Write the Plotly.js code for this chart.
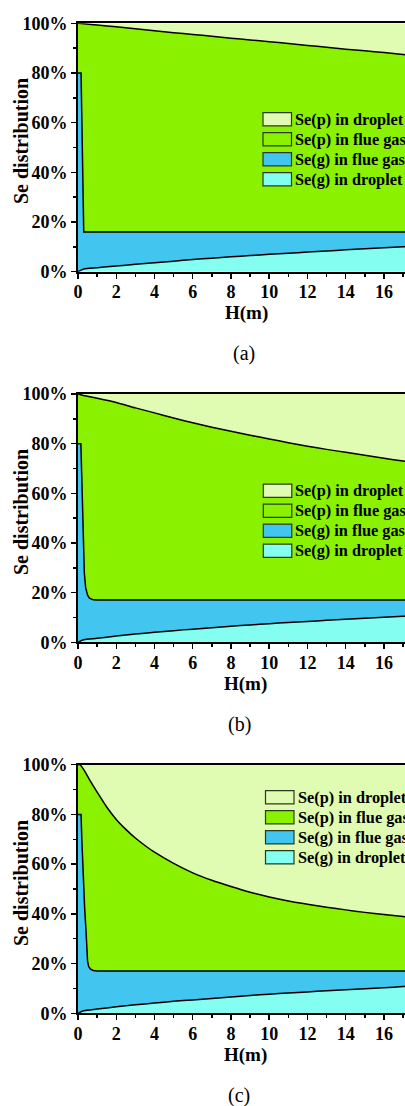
<!DOCTYPE html>
<html><head><meta charset="utf-8">
<script src="https://cdn.plot.ly/plotly-3.0.1.min.js"></script>
<style>html,body{margin:0;padding:0;background:#fff;overflow:hidden;}#chart{width:405px;height:1106px;}</style>
</head><body><div id="chart"></div>
<script>
// ---------------- DATA (cumulative Se share, %) ----------------
const seriesNames = ['Se(p) in droplet', 'Se(p) in flue gas', 'Se(g) in flue gas', 'Se(g) in droplet'];
const seriesColors = ['#E0FCB2', '#8AF200', '#42C6F0', '#84FEF0'];
const panelLabels = ['(a)', '(b)', '(c)'];
const xTitle = 'H(m)';
const yTitle = 'Se distribution';

// common height grid (m) for smooth boundaries
const hGrid = [0, 0.3, 1, 2, 3, 4, 5, 6, 7, 8, 9, 10, 11, 12, 13, 14, 15, 16, 17, 18];
// top edge of the whole stack
const hTop = [0, 18];
const topLevel = [100, 100];

// panel (a)
const a_gDropletTop = [0, 1.1, 1.6, 2.3, 2.95, 3.6, 4.25, 4.9, 5.45, 6.0, 6.5, 7.0, 7.45, 7.9, 8.35, 8.8, 9.2, 9.6, 10.05, 10.45];
const a_hFlue = [0, 0.16, 0.3, 18];
const a_gFlueTop = [80, 80, 16, 16];
const a_hP = hGrid;
const a_pFlueTop = [100, 99.8, 99.3, 98.6, 97.8, 97.0, 96.2, 95.5, 94.8, 94.0, 93.3, 92.6, 91.9, 91.1, 90.4, 89.6, 88.9, 88.2, 87.4, 86.7];

// panel (b)
const b_gDropletTop = [0, 1.0, 1.6, 2.5, 3.3, 4.0, 4.7, 5.3, 5.9, 6.5, 7.0, 7.5, 7.95, 8.4, 8.85, 9.3, 9.7, 10.1, 10.5, 10.9];
const b_hFlue = [0, 0.15, 0.22, 0.28, 0.33, 0.4, 0.5, 0.6, 0.8, 1, 18];
const b_gFlueTop = [80, 80, 60, 40, 28, 22, 19, 17.8, 17.1, 17, 17];
const b_hP = hGrid;
const b_pFlueTop = [100, 99.4, 98.3, 96.6, 94.4, 92.4, 90.3, 88.4, 86.6, 85.0, 83.4, 81.9, 80.4, 79.0, 77.7, 76.5, 75.3, 74.1, 73.0, 72.0];

// panel (c)
const c_gDropletTop = [0, 1.0, 1.7, 2.6, 3.4, 4.1, 4.8, 5.4, 6.0, 6.6, 7.15, 7.7, 8.15, 8.6, 9.05, 9.5, 9.9, 10.3, 10.75, 11.1];
const c_hFlue = [0, 0.16, 0.2, 0.28, 0.35, 0.42, 0.46, 0.5, 0.56, 0.65, 0.8, 1, 18];
const c_gFlueTop = [80, 80, 70, 52, 42, 33, 26, 21, 18.8, 17.8, 17.2, 17, 17];
const c_hP = [0, 0.1, 0.3, 0.6, 1, 1.5, 2, 2.5, 3, 3.5, 4, 5, 6, 7, 8, 9, 10, 11, 12, 13, 14, 15, 16, 17, 18];
const c_pFlueTop = [100, 100, 98, 94, 89, 83, 78, 74, 70.5, 67.5, 64.8, 60.3, 56.5, 53.5, 51, 48.7, 46.8, 45.2, 43.9, 42.7, 41.6, 40.6, 39.7, 38.9, 38.1];

const xTicks = [0, 2, 4, 6, 8, 10, 12, 14, 16];
const yTicks = [0, 20, 40, 60, 80, 100];

// ---------------- LAYOUT GEOMETRY (pixels) ----------------
const W = 405, H = 1106, L = 78;
const plotBox = [[23.3, 271.7], [394, 642.3], [764.7, 1013.3]];
const legendPos = [[263, 119.3, 295], [263.3, 490.7, 295], [265.5, 797.3, 298]];
const xTitleY = [313, 684, 1055];
const xTitleX = [246, 245, 245];
const labelY = [353, 724, 1095.5];
const labelX = [244, 239, 238.5];
const yTitleY = [141, 512, 883];
const FONT = 'Liberation Serif, Times New Roman, serif';

const px = v => (v - L) / (W - L);
const py = v => 1 - v / H;

const panels = [
  [hGrid, a_gDropletTop, a_hFlue, a_gFlueTop, a_hP, a_pFlueTop],
  [hGrid, b_gDropletTop, b_hFlue, b_gFlueTop, b_hP, b_pFlueTop],
  [hGrid, c_gDropletTop, c_hFlue, c_gFlueTop, c_hP, c_pFlueTop]
];

const traces = [];
const layout = {
  width: W, height: H,
  margin: {l: L, r: 0, t: 0, b: 0, pad: 0},
  paper_bgcolor: '#fff', plot_bgcolor: '#fff',
  showlegend: false,
  font: {family: FONT, color: '#000'},
  shapes: [], annotations: []
};

panels.forEach((p, i) => {
  const k = i + 1;
  const xa = k === 1 ? 'x' : 'x' + k;
  const ya = k === 1 ? 'y' : 'y' + k;
  const common = {xaxis: xa, yaxis: ya, hoverinfo: 'skip', showlegend: false};
  const lnS = {color: '#000', width: 1.5, shape: 'spline', smoothing: 0.7};
  const lnL = {color: '#000', width: 1.5};
  traces.push(Object.assign({x: p[0], y: p[1], mode: 'lines', line: lnS, fill: 'tozeroy', fillcolor: seriesColors[3]}, common));
  traces.push(Object.assign({x: p[2], y: p[3], mode: 'lines', line: lnL, fill: 'tonexty', fillcolor: seriesColors[2]}, common));
  traces.push(Object.assign({x: p[4], y: p[5], mode: 'lines', line: lnS, fill: 'tonexty', fillcolor: seriesColors[1]}, common));
  traces.push(Object.assign({x: hTop, y: topLevel, mode: 'none', fill: 'tonexty', fillcolor: seriesColors[0]}, common));

  const tf = {family: FONT, size: 18, color: '#000', weight: 'bold'};
  layout['xaxis' + (k === 1 ? '' : k)] = {
    domain: [0, 1], anchor: ya, range: [0, 17.1],
    tickmode: 'array', tickvals: xTicks, ticktext: xTicks.map(String),
    ticks: 'outside', ticklen: 5, tickwidth: 1.5, tickcolor: '#000', ticklabelstandoff: -2,
    minor: {dtick: 1, tick0: 0, ticks: 'outside', ticklen: 3, tickwidth: 1.5, tickcolor: '#000', showgrid: false},
    showline: true, linecolor: '#000', linewidth: 2, mirror: true,
    showgrid: false, zeroline: false, tickfont: tf, automargin: false, fixedrange: true
  };
  layout['yaxis' + (k === 1 ? '' : k)] = {
    domain: [py(plotBox[i][1]), py(plotBox[i][0])], anchor: xa, range: [0, 100],
    tickmode: 'array', tickvals: yTicks, ticktext: yTicks.map(v => v + '%'),
    ticks: 'outside', ticklen: 5, tickwidth: 1.5, tickcolor: '#000',
    minor: {dtick: 10, tick0: 0, ticks: 'outside', ticklen: 3, tickwidth: 1.5, tickcolor: '#000', showgrid: false},
    showline: true, linecolor: '#000', linewidth: 2, mirror: false,
    showgrid: false, zeroline: false, tickfont: tf, automargin: false, fixedrange: true
  };

  // axis titles and panel label
  layout.annotations.push({xref: 'paper', yref: 'paper', x: px(21), y: py(yTitleY[i]), text: yTitle, textangle: -90,
    showarrow: false, xanchor: 'center', yanchor: 'middle', borderpad: 0, font: {family: FONT, size: 20, color: '#000', weight: 'bold'}});
  layout.annotations.push({xref: 'paper', yref: 'paper', x: px(xTitleX[i]), y: py(xTitleY[i]), text: xTitle,
    showarrow: false, xanchor: 'center', yanchor: 'middle', borderpad: 0, font: {family: FONT, size: 19, color: '#000', weight: 'bold'}});
  layout.annotations.push({xref: 'paper', yref: 'paper', x: px(labelX[i]), y: py(labelY[i]), text: panelLabels[i],
    showarrow: false, xanchor: 'center', yanchor: 'middle', font: {family: FONT, size: 20, color: '#000'}});

  // legend (swatches + labels)
  const [sx, sy, tx] = legendPos[i];
  seriesNames.forEach((name, j) => {
    const cy = sy + j * 20;
    layout.shapes.push({type: 'rect', xref: 'paper', yref: 'paper', x0: px(sx), x1: px(sx + 28.5), y0: py(cy + 6.6), y1: py(cy - 6.6),
      fillcolor: seriesColors[j], line: {color: '#2b3a1c', width: 1.2}, layer: 'above'});
    layout.annotations.push({xref: 'paper', yref: 'paper', x: px(tx - 2), y: py(cy), text: name, showarrow: false,
      xanchor: 'left', yanchor: 'middle', font: {family: FONT, size: 16.3, color: '#000', weight: 'bold'}});
  });
});

Plotly.newPlot('chart', traces, layout, {staticPlot: true, displayModeBar: false});
</script>
</body></html>
